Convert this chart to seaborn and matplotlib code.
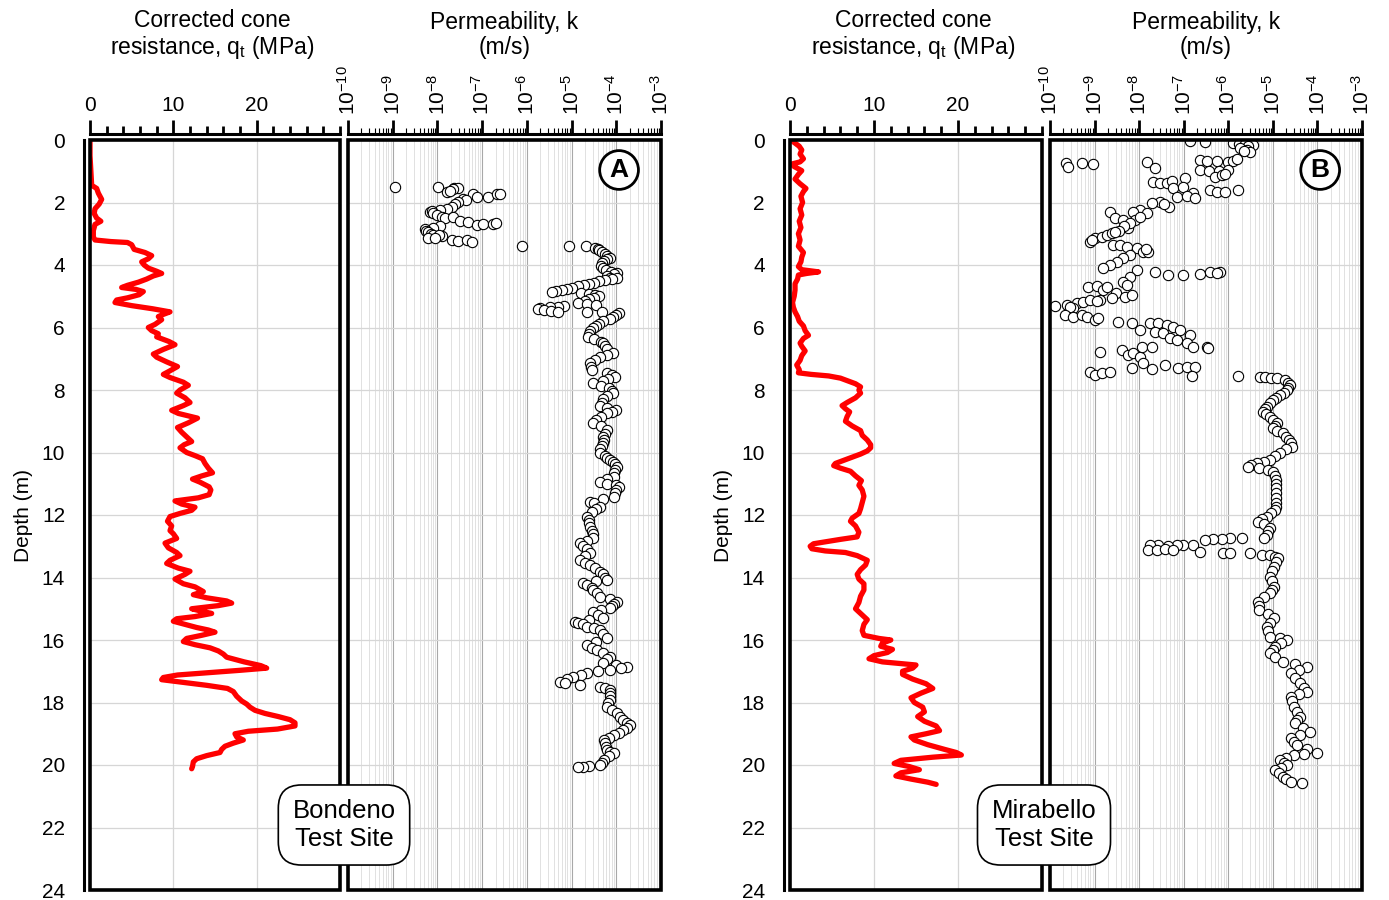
import matplotlib
matplotlib.use("Agg")
import matplotlib.pyplot as plt
from matplotlib.patches import Rectangle
from matplotlib.ticker import MultipleLocator, LogLocator, NullFormatter
import numpy as np
import seaborn as sns

## data: Bondeno (A)
qtA_depth = [0.0, 0.5, 1.0, 1.45, 1.55, 1.7, 1.9, 2.05, 2.2, 2.35,
             2.5, 2.6, 2.7, 2.9, 3.1, 3.2, 3.25, 3.28, 3.35, 3.5,
             3.6, 3.7, 3.8, 3.9, 4.0, 4.1, 4.2, 4.27, 4.35, 4.45,
             4.55, 4.65, 4.72, 4.78, 4.85, 4.95, 5.05, 5.12, 5.2, 5.3,
             5.4, 5.5, 5.58, 5.65, 5.75, 5.9, 6.0, 6.1, 6.2, 6.3,
             6.45, 6.55, 6.7, 6.85, 6.95, 7.1, 7.25, 7.4, 7.5, 7.6,
             7.75, 7.85, 8.0, 8.1, 8.25, 8.4, 8.5, 8.65, 8.75, 8.9,
             9.05, 9.2, 9.35, 9.5, 9.65, 9.75, 9.85, 10.0, 10.1, 10.2,
             10.35, 10.5, 10.65, 10.75, 10.85, 10.95, 11.1, 11.2, 11.35, 11.45,
             11.55, 11.65, 11.75, 11.85, 11.95, 12.05, 12.2, 12.35, 12.5, 12.6,
             12.75, 12.9, 13.05, 13.2, 13.3, 13.45, 13.55, 13.7, 13.8, 13.9,
             14.05, 14.2, 14.3, 14.45, 14.55, 14.65, 14.75, 14.82, 14.9, 15.0,
             15.08, 15.15, 15.25, 15.32, 15.4, 15.5, 15.6, 15.68, 15.75, 15.85,
             15.95, 16.05, 16.15, 16.25, 16.35, 16.45, 16.55, 16.7, 16.82, 16.9,
             16.97, 17.05, 17.12, 17.2, 17.27, 17.35, 17.45, 17.55, 17.65, 17.8,
             17.95, 18.05, 18.15, 18.25, 18.35, 18.45, 18.55, 18.65, 18.75, 18.85,
             18.92, 19.0, 19.1, 19.2, 19.3, 19.4, 19.5, 19.6, 19.7, 19.8,
             19.9, 20.05, 20.12]
qtA = [0.0, 0.0, 0.1, 0.2, 0.8, 1.0, 1.4, 1.1, 0.6, 0.5,
       0.8, 1.3, 0.6, 0.4, 0.4, 0.6, 2.5, 4.5, 5.0, 5.3,
       6.6, 7.4, 7.0, 6.2, 6.5, 7.0, 8.0, 8.6, 7.6, 6.8,
       5.8, 4.5, 3.8, 5.5, 6.4, 5.9, 4.5, 3.2, 3.0, 5.0,
       7.5, 9.6, 8.8, 8.2, 8.6, 7.8, 7.0, 7.4, 8.2, 8.0,
       9.5, 10.2, 8.8, 7.6, 8.0, 9.2, 10.5, 9.5, 8.8, 9.6,
       11.2, 11.8, 10.8, 10.4, 11.4, 12.0, 11.2, 9.8, 10.6, 12.9,
       11.8, 10.5, 11.0, 11.6, 12.2, 11.3, 10.8, 11.6, 12.6, 13.5,
       13.8, 14.2, 14.7, 13.4, 12.3, 13.2, 14.3, 14.5, 14.3, 13.0,
       10.2, 11.0, 12.6, 12.2, 10.8, 9.6, 9.3, 9.8, 9.6, 10.0,
       10.4, 9.0, 9.4, 10.4, 10.8, 9.6, 9.2, 10.6, 12.0, 11.4,
       10.2, 11.2, 12.6, 13.6, 12.4, 14.0, 16.4, 17.0, 15.4, 12.2,
       13.4, 14.6, 12.6, 10.4, 10.0, 11.4, 12.8, 14.2, 15.0, 13.4,
       11.6, 11.2, 12.6, 14.4, 15.4, 16.0, 16.4, 18.5, 20.5, 21.2,
       18.0, 14.0, 10.5, 8.8, 8.6, 11.0, 14.0, 16.5, 17.2, 17.6,
       18.2, 18.8, 19.2, 19.8, 21.0, 22.6, 24.0, 24.6, 24.6, 22.5,
       19.0, 17.4, 17.6, 18.4, 17.2, 16.2, 15.8, 15.6, 14.0, 12.8,
       12.4, 12.3, 12.2]

kA_depth = [1.49, 1.50, 1.55, 1.53, 1.58, 1.67, 1.62, 1.72, 1.82, 1.82,
            1.72, 1.74, 1.88, 1.92, 1.99, 2.05, 2.14, 2.2, 2.25, 2.3,
            2.28, 2.35, 2.4, 2.45, 2.5, 2.45, 2.58, 2.62, 2.72, 2.70,
            2.68, 2.66, 2.75, 2.8, 2.85, 2.9, 2.95, 3.0, 3.05, 3.08,
            3.03, 3.2, 3.22, 3.2, 3.25, 3.12, 3.15,
            3.38, 3.38, 3.40, 3.45, 3.48, 3.52, 3.58, 3.64, 3.70, 3.76,
            3.82, 3.88, 3.95, 4.02, 4.1, 4.16, 4.22, 4.27, 4.3, 4.35,
            4.40, 4.43, 4.45, 4.48, 4.52, 4.56, 4.6, 4.64, 4.68, 4.72,
            4.76, 4.80, 4.84, 4.86, 4.88, 4.92, 4.96, 5.0, 5.05, 5.1,
            5.15, 5.2, 5.25, 5.28, 5.3, 5.33, 5.35, 5.38, 5.40, 5.45,
            5.48, 5.5, 5.49, 5.5, 5.55, 5.6, 5.65, 5.72, 5.8, 5.88,
            5.95, 6.02, 6.1, 6.2, 6.3, 6.38, 6.45, 6.5, 6.6, 6.7,
            6.8, 6.88, 6.95, 7.05, 7.15, 7.25, 7.35, 7.45, 7.52, 7.57,
            7.65, 7.7, 7.79, 7.87, 7.95, 8.02, 8.1, 8.2, 8.3, 8.4,
            8.5, 8.57, 8.64, 8.7, 8.75, 8.85, 8.95, 9.07, 9.15, 9.28,
            9.4, 9.5, 9.6, 9.7, 9.8, 9.9, 10.03, 10.1, 10.17, 10.24,
            10.3, 10.38, 10.45, 10.55, 10.65, 10.77, 10.85, 10.93, 11.0, 11.05,
            11.09, 11.2, 11.3, 11.41, 11.48, 11.57, 11.62, 11.73, 11.8, 11.9,
            12.05, 12.15, 12.25, 12.37, 12.5, 12.6, 12.75, 12.82, 12.91, 13.0,
            13.1, 13.23, 13.32, 13.44, 13.52, 13.6, 13.7, 13.81, 13.9, 14.0,
            14.08, 14.12, 14.19, 14.25, 14.33, 14.4, 14.5, 14.61, 14.7, 14.77,
            14.85, 14.92, 14.99, 15.05, 15.09, 15.2, 15.31, 15.35, 15.41, 15.45,
            15.5, 15.57, 15.63, 15.68, 15.8, 15.95, 16.05, 16.16, 16.25, 16.32,
            16.42, 16.53, 16.62, 16.75, 16.8, 16.85, 16.9, 16.96, 17.0, 17.07,
            17.12, 17.17, 17.25, 17.33, 17.38, 17.44, 17.49, 17.55, 17.6, 17.7,
            17.8, 17.92, 18.02, 18.13, 18.25, 18.35, 18.45, 18.56, 18.65, 18.72,
            18.8, 18.88, 18.96, 19.04, 19.12, 19.2, 19.3, 19.42, 19.52, 19.58,
            19.63, 19.72, 19.84, 19.92, 20.0, 20.03, 20.05, 20.06]
kA_log = [-8.96, -7.99, -7.62, -7.55, -7.66, -7.79, -7.72, -7.21, -7.12, -6.87,
          -6.67, -6.60, -7.43, -7.36, -7.54, -7.6, -7.68, -7.79, -7.95, -8.17,
          -8.12, -8.1, -8.02, -7.9, -7.83, -7.65, -7.5, -7.32, -7.12, -6.97,
          -6.75, -6.7, -7.94, -8.1, -8.28, -8.25, -8.21, -8.15, -8.1, -7.9,
          -7.97, -7.68, -7.53, -7.34, -7.23, -8.2, -8.05,
          -6.11, -5.06, -4.68, -4.47, -4.42, -4.38, -4.32, -4.26, -4.21, -4.15,
          -4.2, -4.27, -4.32, -4.35, -4.3, -4.24, -4.12, -3.99, -4.05, -4.21,
          -4.15, -3.99, -4.1, -4.25, -4.38, -4.5, -4.6, -4.72, -4.85, -4.98,
          -5.1, -5.22, -5.35, -5.44, -4.78, -4.62, -4.48, -4.38, -4.5, -4.62,
          -4.7, -4.85, -4.66, -4.45, -5.18, -5.3, -5.48, -5.7, -5.75, -5.62,
          -5.45, -5.3, -4.66, -4.31, -3.95, -4.0, -4.07, -4.15, -4.29, -4.38,
          -4.45, -4.52, -4.58, -4.6, -4.63, -4.5, -4.35, -4.29, -4.25, -4.21,
          -4.07, -4.2, -4.36, -4.48, -4.59, -4.57, -4.55, -4.21, -4.1, -4.03,
          -4.18, -4.29, -4.51, -4.35, -4.16, -4.1, -4.07, -4.2, -4.29, -4.33,
          -4.36, -4.2, -4.0, -4.1, -4.21, -4.35, -4.45, -4.51, -4.35, -4.21,
          -4.25, -4.3, -4.28, -4.3, -4.33, -4.36, -4.36, -4.25, -4.2, -4.14,
          -4.08, -4.02, -3.99, -4.02, -4.05, -4.06, -4.2, -4.36, -4.2, -4.0,
          -3.95, -4.0, -4.03, -4.06, -4.3, -4.59, -4.5, -4.36, -4.45, -4.55,
          -4.66, -4.62, -4.6, -4.59, -4.55, -4.52, -4.51, -4.65, -4.81, -4.75,
          -4.66, -4.59, -4.7, -4.81, -4.7, -4.59, -4.48, -4.36, -4.3, -4.25,
          -4.21, -4.45, -4.74, -4.65, -4.55, -4.51, -4.44, -4.36, -4.15, -3.99,
          -4.05, -4.1, -4.14, -4.35, -4.51, -4.4, -4.29, -4.6, -4.92, -4.85,
          -4.75, -4.66, -4.5, -4.36, -4.3, -4.21, -4.45, -4.66, -4.55, -4.44,
          -4.3, -4.14, -4.2, -4.29, -4.0, -3.77, -3.9, -4.14, -4.4, -4.66,
          -4.8, -4.96, -5.1, -5.26, -5.15, -4.81, -4.36, -4.25, -4.14, -4.14,
          -4.14, -4.14, -4.18, -4.21, -4.1, -3.99, -3.92, -3.84, -3.75, -3.69,
          -3.75, -3.84, -3.95, -4.06, -4.17, -4.28, -4.26, -4.24, -4.21, -4.14,
          -4.06, -4.16, -4.28, -4.32, -4.36, -4.6, -4.74, -4.85]

## data: Mirabello (B)
qtB_depth = [0.0, 0.1, 0.2, 0.32, 0.45, 0.6, 0.7, 0.77, 0.85, 0.98,
             1.1, 1.25, 1.4, 1.55, 1.65, 1.8, 2.0, 2.2, 2.4, 2.6,
             2.8, 3.0, 3.2, 3.4, 3.6, 3.75, 3.9, 4.05, 4.15, 4.22,
             4.27, 4.32, 4.45, 4.6, 4.8, 5.0, 5.2, 5.35, 5.5, 5.65,
             5.8, 5.95, 6.1, 6.25, 6.35, 6.5, 6.6, 6.75, 6.9, 7.05,
             7.2, 7.35, 7.45, 7.5, 7.55, 7.62, 7.7, 7.8, 7.9, 8.0,
             8.1, 8.25, 8.4, 8.5, 8.6, 8.7, 8.85, 9.0, 9.15, 9.3,
             9.45, 9.6, 9.75, 9.85, 9.95, 10.05, 10.15, 10.25, 10.35, 10.42,
             10.5, 10.6, 10.75, 10.9, 11.05, 11.2, 11.4, 11.6, 11.8, 11.95,
             12.1, 12.2, 12.35, 12.55, 12.7, 12.78, 12.85, 12.92, 13.0, 13.08,
             13.15, 13.2, 13.3, 13.45, 13.6, 13.75, 13.9, 14.05, 14.2, 14.4,
             14.6, 14.8, 15.0, 15.15, 15.35, 15.5, 15.7, 15.85, 15.95, 16.0,
             16.1, 16.2, 16.3, 16.4, 16.5, 16.6, 16.7, 16.8, 16.9, 17.0,
             17.1, 17.25, 17.4, 17.55, 17.7, 17.85, 18.0, 18.15, 18.3, 18.45,
             18.6, 18.75, 18.9, 19.0, 19.1, 19.2, 19.35, 19.5, 19.6, 19.68,
             19.75, 19.85, 19.95, 20.05, 20.15, 20.25, 20.35, 20.45, 20.55, 20.62]
qtB = [0.1, 0.6, 1.1, 1.4, 1.2, 1.6, 1.2, 0.2, 0.5, 1.4,
       1.0, 0.6, 1.2, 1.9, 1.6, 1.3, 1.5, 1.2, 1.4, 1.1,
       1.3, 1.0, 1.2, 1.0, 1.6, 1.4, 1.3, 1.0, 1.4, 3.4,
       2.0, 1.0, 0.9, 0.6, 0.6, 0.5, 0.3, 0.4, 0.6, 0.9,
       1.1, 1.6, 1.8, 2.2, 1.6, 1.2, 1.4, 1.8, 1.4, 1.2,
       0.8, 1.1, 1.0, 2.5, 4.6, 6.0, 6.8, 7.8, 8.4, 8.2,
       8.4, 7.8, 6.8, 6.2, 6.6, 7.1, 6.8, 6.6, 7.4, 8.4,
       8.6, 9.2, 9.6, 9.6, 9.2, 8.4, 7.4, 6.4, 5.4, 5.2,
       6.0, 7.2, 7.8, 8.5, 8.2, 8.6, 8.8, 8.6, 8.4, 8.2,
       7.4, 7.2, 7.8, 8.2, 8.0, 6.0, 4.4, 2.8, 2.4, 2.6,
       4.2, 6.6, 8.0, 9.2, 9.0, 8.4, 8.0, 8.2, 8.8, 8.8,
       8.4, 8.2, 7.8, 8.4, 9.2, 8.8, 8.6, 8.8, 10.6, 12.0,
       11.0, 10.8, 12.2, 11.6, 10.0, 9.4, 11.0, 15.0, 14.6, 13.4,
       13.4, 14.6, 16.2, 17.0, 15.6, 14.4, 14.8, 15.8, 16.0, 15.2,
       16.0, 17.4, 17.8, 16.2, 14.4, 14.8, 16.4, 18.4, 19.8, 20.4,
       17.0, 13.2, 12.4, 14.2, 15.4, 13.2, 12.6, 14.4, 16.4, 17.4]

kB_depth = [0.02, 0.05, 0.1, 0.12, 0.13, 0.16, 0.2, 0.27, 0.32, 0.37,
            0.35, 0.64, 0.66, 0.68, 0.69, 0.66, 0.62, 0.75, 0.85, 0.73,
            0.78, 0.69, 0.91, 0.96, 1.0, 0.98, 0.97, 1.17, 1.12, 1.08,
            1.33, 1.39, 1.38, 1.30, 1.23, 1.6, 1.65, 1.65, 1.6, 1.55,
            1.5, 1.7, 1.81, 1.78, 1.87, 1.97, 2.13, 2.03, 2.06, 2.24,
            2.3, 2.35, 2.3, 2.5, 2.56, 2.83, 2.56, 2.45, 2.65, 2.75,
            2.9, 3.25, 3.15, 3.1, 3.04, 2.99, 2.93, 3.2, 3.36, 3.36,
            3.41, 3.46, 3.57, 3.57, 3.5, 3.68, 3.79, 3.9, 4.0, 4.11,
            4.16, 4.37, 4.53, 4.64, 4.21, 4.32, 4.32, 4.3, 4.21, 4.21,
            4.25, 4.69, 4.67, 4.8, 4.69, 4.9, 5.01, 4.96, 5.07, 5.2,
            5.17, 5.12, 5.12, 5.15, 5.3, 5.28, 5.39, 5.35, 5.6, 5.65,
            5.6, 5.65, 5.76, 5.71, 5.81, 5.84, 5.87, 5.87, 5.92, 5.97,
            6.08, 6.24, 6.08, 6.13, 6.19, 6.35, 6.4, 6.5, 6.61, 6.61,
            6.65, 6.77, 6.72, 6.88, 6.83, 6.93, 6.61, 6.61, 7.41, 7.52,
            7.46, 7.41, 7.3, 7.15, 7.33, 7.2, 7.31, 7.25, 7.25, 7.54,
            7.55, 7.57, 7.57, 7.6, 7.63, 7.68, 7.76, 7.84, 7.92, 8.0,
            8.08, 8.16, 8.24, 8.32, 8.42, 8.53, 8.6, 8.69, 8.77, 8.85,
            8.96, 9.07, 9.15, 9.23, 9.3, 9.39, 9.5, 9.6, 9.7, 9.81,
            9.9, 10.03, 10.12, 10.24, 10.3, 10.35, 10.4, 10.45, 10.5, 10.55,
            10.61, 10.75, 10.88, 11.0, 11.15, 11.31, 11.45, 11.63, 11.74, 11.84,
            11.95, 12.05, 12.13, 12.21, 12.3, 12.43, 12.52, 12.64, 12.72, 12.75,
            12.74, 12.76, 12.78, 12.8, 12.96, 12.96, 12.96, 12.98, 12.97, 12.96,
            13.12, 13.12, 13.1, 13.12, 13.17, 13.23, 13.2, 13.23, 13.28, 13.28,
            13.33, 13.39, 13.5, 13.65, 13.8, 13.97, 14.12, 14.29, 14.4, 14.51,
            14.62, 14.77, 14.9, 15.04, 15.18, 15.31, 15.45, 15.57, 15.72, 15.89,
            15.95, 16.0, 16.1, 16.21, 16.32, 16.43, 16.55, 16.69, 16.78, 16.85,
            16.95, 17.07, 17.2, 17.39, 17.52, 17.65, 17.72, 17.81, 17.95, 18.13,
            18.3, 18.45, 18.56, 18.67, 18.8, 18.93, 19.05, 19.15, 19.25, 19.36,
            19.5, 19.63, 19.66, 19.68, 19.76, 19.84, 19.92, 20.0, 20.08, 20.16,
            20.26, 20.37, 20.45, 20.53, 20.59]
kB_log = [-6.86, -6.52, -5.9, -5.75, -5.62, -5.45, -5.55, -5.74, -5.58, -5.52,
          -5.65, -6.64, -6.48, -6.26, -6.01, -5.9, -5.8, -9.63, -9.6, -9.29,
          -9.03, -7.83, -7.65, -6.64, -6.43, -6.21, -6.0, -6.3, -6.14, -6.08,
          -7.69, -7.53, -7.38, -7.26, -6.97, -6.41, -6.26, -6.08, -5.78, -7.24,
          -7.02, -6.79, -7.15, -6.93, -6.74, -7.53, -7.34, -7.71, -7.45, -7.98,
          -8.14, -7.83, -8.65, -8.54, -8.36, -8.25, -8.09, -7.98, -8.2, -8.35,
          -8.45, -9.1, -8.99, -8.83, -8.72, -8.61, -8.54, -9.05, -8.58, -8.43,
          -8.27, -8.05, -7.92, -7.8, -7.85, -8.21, -8.36, -8.5, -8.65, -8.81,
          -8.05, -8.21, -8.36, -8.27, -7.65, -7.36, -7.02, -6.64, -6.41, -6.19,
          -6.26, -9.14, -8.95, -8.81, -8.72, -8.51, -8.32, -8.17, -8.61, -9.4,
          -9.26, -9.1, -8.88, -8.95, -9.89, -9.62, -9.48, -9.55, -9.66, -9.48,
          -9.28, -9.17, -8.99, -8.92, -8.48, -8.17, -7.76, -7.58, -7.38, -7.24,
          -7.08, -6.86, -7.98, -7.65, -7.47, -7.31, -7.15, -6.93, -6.79, -6.48,
          -6.45, -8.88, -8.39, -8.25, -8.14, -7.98, -7.94, -7.72, -9.1, -8.99,
          -8.83, -8.65, -8.17, -7.92, -7.72, -7.42, -7.13, -6.93, -6.75, -6.82,
          -5.78, -5.29, -5.18, -5.05, -4.91, -4.73, -4.65, -4.62, -4.66, -4.69,
          -4.76, -4.84, -4.92, -5.0, -5.07, -5.13, -5.18, -5.22, -5.15, -5.07,
          -5.0, -4.91, -4.95, -5.0, -4.9, -4.78, -4.7, -4.63, -4.6, -4.58,
          -4.7, -4.84, -4.95, -5.07, -5.2, -5.36, -5.48, -5.56, -5.3, -5.1,
          -5.0, -4.95, -4.93, -4.92, -4.93, -4.93, -4.92, -4.93, -4.94, -4.95,
          -5.05, -5.14, -5.25, -5.33, -5.2, -5.07, -5.1, -5.14, -5.2, -5.7,
          -5.96, -6.14, -6.34, -6.52, -6.79, -7.02, -7.15, -7.36, -7.58, -7.76,
          -7.8, -7.6, -7.42, -7.24, -6.64, -6.12, -5.96, -5.52, -5.25, -5.07,
          -4.95, -4.88, -4.93, -4.98, -5.02, -5.07, -5.02, -4.98, -5.02, -5.07,
          -5.2, -5.33, -5.32, -5.3, -5.12, -4.98, -5.06, -5.14, -5.1, -5.07,
          -4.85, -4.69, -4.82, -4.95, -5.0, -5.07, -4.95, -4.78, -4.5, -4.24,
          -4.42, -4.6, -4.5, -4.39, -4.3, -4.24, -4.42, -4.6, -4.57, -4.53,
          -4.46, -4.39, -4.45, -4.5, -4.33, -4.17, -4.4, -4.6, -4.53, -4.46,
          -4.24, -4.01, -4.3, -4.53, -4.7, -4.84, -4.76, -4.69, -4.82, -4.95,
          -4.86, -4.78, -4.7, -4.6, -4.35]

sns.set_style("white")
plt.rcParams['font.family'] = ['Liberation Sans', 'DejaVu Sans']
plt.rcParams['mathtext.fontset'] = 'custom'
plt.rcParams['mathtext.rm'] = 'Liberation Sans'
plt.rcParams['mathtext.it'] = 'Liberation Sans'
for key in ['text.color', 'axes.labelcolor', 'xtick.color', 'ytick.color']:
    plt.rcParams[key] = 'black'

W, H = 1389, 900
fig = plt.figure(figsize=(W / 100, H / 100), dpi=100)


def px_axes(x0, x1, y0=140, y1=890):
    return fig.add_axes([x0 / W, 1 - y1 / H, (x1 - x0) / W, (y1 - y0) / H])


def box(ax):
    # heavy frame round the plotting area
    ax.add_patch(Rectangle((0, 0), 1, 1, transform=ax.transAxes, fill=False,
                           lw=2.6, ec='black', clip_on=False, zorder=10))


def draw_site(x_q, x_k, qd, qv, kd, kv, letter, site, site_x):
    ax_q = px_axes(*x_q)
    ax_k = px_axes(*x_k)

    # ---- cone resistance track
    sns.lineplot(x=qv, y=qd, ax=ax_q, sort=False, estimator=None,
                 color='#ff0000', lw=3.8, zorder=5)
    ax_q.set_xlim(0, 30)
    ax_q.set_ylim(24, 0)
    ax_q.set_xticks([0, 10, 20])
    ax_q.xaxis.set_minor_locator(MultipleLocator(2))
    ax_q.set_yticks(range(0, 25, 2))
    ax_q.yaxis.set_minor_locator(MultipleLocator(0.5))
    ax_q.xaxis.tick_top()
    ax_q.grid(True, which='major', color='#d6d6d6', lw=0.9)
    ax_q.set_xlabel('')
    ax_q.set_ylabel('Depth (m)', fontsize=15, labelpad=6)
    for s in ['right', 'bottom']:
        ax_q.spines[s].set_visible(False)
    for s in ['top', 'left']:
        ax_q.spines[s].set_position(('outward', 4))
        ax_q.spines[s].set_linewidth(2.2)
        ax_q.spines[s].set_color('black')
    ax_q.tick_params(axis='both', which='major', direction='out', length=10,
                     width=2.0, labelsize=15, pad=4)
    ax_q.tick_params(axis='both', which='minor', direction='out', length=6,
                     width=2.0)
    ax_q.tick_params(axis='x', which='both', top=True, bottom=False)
    box(ax_q)

    # ---- permeability track
    sns.scatterplot(x=10.0 ** np.array(kv), y=kd, ax=ax_k, s=55,
                    facecolor='white', edgecolor='black', linewidth=0.8,
                    zorder=5)
    ax_k.set_xscale('log')
    ax_k.set_xlim(1e-10, 1e-3)
    ax_k.set_ylim(24, 0)
    ax_k.xaxis.set_major_locator(LogLocator(base=10, numticks=20))
    ax_k.xaxis.set_minor_locator(LogLocator(base=10, subs=np.arange(2, 10),
                                            numticks=20))
    ax_k.xaxis.set_minor_formatter(NullFormatter())
    ax_k.set_yticks(range(0, 25, 2))
    ax_k.xaxis.tick_top()
    ax_k.grid(True, which='major', axis='x', color='#a8a8a8', lw=0.8)
    ax_k.grid(True, which='minor', axis='x', color='#dcdcdc', lw=0.6)
    ax_k.grid(True, which='major', axis='y', color='#d6d6d6', lw=0.9)
    ax_k.set_xlabel('')
    ax_k.set_ylabel('')
    for s in ['right', 'bottom', 'left']:
        ax_k.spines[s].set_visible(False)
    ax_k.spines['top'].set_position(('outward', 4))
    ax_k.spines['top'].set_linewidth(2.2)
    ax_k.spines['top'].set_color('black')
    ax_k.tick_params(axis='y', left=False, labelleft=False)
    ax_k.tick_params(axis='x', which='major', direction='out', length=10,
                     width=2.0, labelsize=15, pad=4, labelrotation=90)
    ax_k.tick_params(axis='x', which='minor', direction='out', length=4,
                     width=0.8)
    ax_k.tick_params(axis='x', which='both', top=True, bottom=False)
    box(ax_k)

    ax_k.text(0.866, 0.96, letter, transform=ax_k.transAxes, ha='center',
              va='center', fontsize=19, fontweight='bold', zorder=12,
              bbox=dict(boxstyle='circle,pad=0.28', fc='white', ec='black',
                        lw=2.0))

    # ---- headings
    cq = (x_q[0] + x_q[1]) / 2 / W
    ck = (x_k[0] + x_k[1]) / 2 / W
    fig.text(cq - 3 / W, 1 - 35 / H,
             'Corrected cone\nresistance, q$_\\mathrm{t}$ (MPa)',
             ha='center', va='center', fontsize=16.5, linespacing=1.1)
    fig.text(ck, 1 - 35 / H, 'Permeability, k\n(m/s)', ha='center',
             va='center', fontsize=16.5, linespacing=1.15)

    fig.text(site_x / W, 1 - 825 / H, site, ha='center', va='center',
             fontsize=18.5, linespacing=1.2, zorder=20,
             bbox=dict(boxstyle='round,pad=0.55,rounding_size=0.9',
                       fc='white', ec='black', lw=1.2))


draw_site((90, 340), (348, 661), qtA_depth, qtA, kA_depth, kA_log,
          'A', 'Bondeno\nTest Site', 344)
draw_site((790, 1042), (1050, 1362), qtB_depth, qtB, kB_depth, kB_log,
          'B', 'Mirabello\nTest Site', 1044)

fig.savefig('out.png', dpi=100)
